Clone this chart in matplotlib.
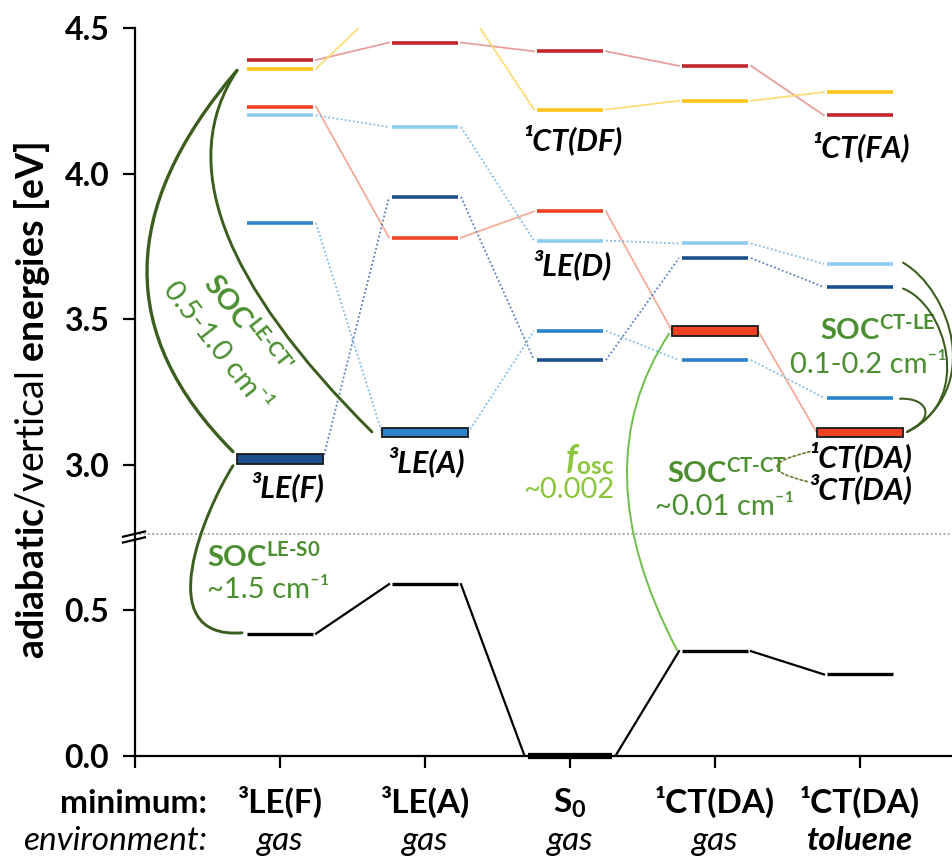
import numpy as np
import matplotlib
matplotlib.use("Agg")
import matplotlib.pyplot as plt
from matplotlib.path import Path
from matplotlib.patches import PathPatch, Rectangle
from matplotlib.transforms import blended_transform_factory

plt.rcParams["font.family"] = ["Lato", "DejaVu Sans"]
plt.rcParams["mathtext.fontset"] = "custom"
plt.rcParams["mathtext.rm"] = "Lato:bold"
plt.rcParams["mathtext.bf"] = "Lato:bold"
plt.rcParams["mathtext.it"] = "Lato:italic:bold"
plt.rcParams["mathtext.sf"] = "Lato"

# geometries along the x axis
minima = ["³LE(F)", "³LE(A)", r"S$_{\text{0}}$", "¹CT(DA)", "¹CT(DA)"]
environments = ["gas", "gas", "gas", "gas", "toluene"]
xpos = np.arange(1, 6)

# state energies in eV at every geometry
E_ct_fa = [4.39, 4.45, 4.42, 4.37, 4.20]
E_ct_df = [4.36, 4.60, 4.22, 4.25, 4.28]
E_ct_da = [4.23, 3.78, 3.87, 3.46, 3.11]
E_le_d = [4.20, 4.16, 3.77, 3.76, 3.69]
E_le_a = [3.83, 3.11, 3.46, 3.36, 3.23]
E_le_f = [3.02, 3.92, 3.36, 3.71, 3.61]
E_s0 = [0.42, 0.59, 0.00, 0.36, 0.28]

ytick_pos = [0.0, 0.5, 1.0, 1.5, 2.0, 2.5]
ytick_lab = ["0.0", "0.5", "3.0", "3.5", "4.0", "4.5"]

GREEN = "#3b5e1f"
GREEN_TXT = "#4b8f31"
LIME = "#6cc04a"
LIME_TXT = "#8cc63f"


def to_axis(E):
    # broken axis: everything above 2 eV is shifted down by 2 eV
    E = np.asarray(E, float)
    return np.where(E > 2.0, E - 2.0, E)


fig = plt.figure(figsize=(9.53, 8.61), dpi=100)
ax = fig.add_axes([135 / 953, 105 / 861, 818 / 953, 728 / 861])
ax.set_xlim(0, 818 / 145)
ax.set_ylim(0, 2.5)

HW = 0.228   # half width of a level
BW = 0.297   # half width of a boxed minimum
BH = 0.032
GAP = 0.02

dotted = (0, (1, 1.3))
series = [
    (E_ct_fa, "#c1272d", "#e8a09c", "-", []),
    (E_ct_df, "#fcc419", "#fddc78", "-", []),
    (E_ct_da, "#ef4123", "#f6ab96", "-", [3, 4]),
    (E_le_d, "#8ecbf0", "#7fbde8", dotted, []),
    (E_le_a, "#2d83c9", "#7fbde8", dotted, [1]),
    (E_le_f, "#1d4f8f", "#5a7fc0", dotted, [0]),
]

for E, col, ccol, ls, boxes in series:
    y = to_axis(E)
    hw = [BW if i in boxes else HW for i in range(5)]
    for i in range(5):
        if i in boxes:
            ax.add_patch(Rectangle((xpos[i] - BW, y[i] - BH / 2), 2 * BW, BH,
                                   fc=col, ec="#1a1a1a", lw=1.3, zorder=4))
        else:
            ax.plot([xpos[i] - HW, xpos[i] + HW], [y[i], y[i]], color=col,
                    lw=2.6, solid_capstyle="butt", zorder=3)
    for i in range(4):
        g0 = 0 if i in boxes else GAP
        g1 = 0 if (i + 1) in boxes else GAP
        ax.plot([xpos[i] + hw[i] + g0, xpos[i + 1] - hw[i + 1] - g1],
                [y[i], y[i + 1]], color=ccol, lw=1.3, ls=ls, zorder=2)

# ground state
y0 = to_axis(E_s0)
hw0 = [HW, HW, 0.293, HW, HW]
for i in range(5):
    ax.plot([xpos[i] - hw0[i], xpos[i] + hw0[i]], [y0[i], y0[i]], color="black",
            lw=4.5 if i == 2 else 2.4, solid_capstyle="butt", zorder=6,
            clip_on=False)
for i in range(4):
    ax.plot([xpos[i] + hw0[i] + GAP, xpos[i + 1] - hw0[i + 1] - GAP],
            [y0[i], y0[i + 1]], color="black", lw=1.6, zorder=2)


def curve(pts, color, lw, ls="-", clip=True):
    codes = [Path.MOVETO] + [Path.CURVE3 if len(pts) == 3 else Path.CURVE4] * (len(pts) - 1)
    ax.add_patch(PathPatch(Path(pts, codes), fc="none", ec=color, lw=lw, ls=ls,
                           capstyle="round", zorder=5, clip_on=clip))


# SOC LE-CT' couplings
curve([(0.703, 2.354), (-0.524, 1.643), (0.676, 1.045)], GREEN, 2.4, clip=False)
curve([(0.703, 2.354), (0.076, 1.883), (1.634, 1.113)], GREEN, 2.1)
# SOC LE-S0
curve([(0.676, 0.997), (0.483, 0.845), (0.097, 0.399), (0.738, 0.423)], GREEN, 2.1)
# oscillator strength
curve([(3.683, 1.450), (3.076, 0.990), (3.738, 0.364)], LIME, 1.4)
# SOC CT-LE in toluene
curve([(5.297, 1.694), (5.621, 1.601), (5.862, 1.258), (5.324, 1.113)], GREEN, 1.5, clip=False)
curve([(5.297, 1.605), (5.586, 1.550), (5.793, 1.223), (5.324, 1.113)], GREEN, 1.5, clip=False)
curve([(5.276, 1.227), (5.483, 1.230), (5.517, 1.155), (5.324, 1.113)], GREEN, 1.5, clip=False)
# SOC CT-CT
curve([(4.655, 1.045), (4.207, 0.993), (4.641, 0.942)], "#6b7a2f", 1.2, ls=(0, (1.5, 1.5)))

# axis break
ax.axhline(0.762, color="#aaaaaa", lw=1.4, ls=(0, (1, 1.2)), zorder=1)
for yb in (0.762, 0.742):
    ax.plot([-0.083, 0.069], [yb - 0.009, yb + 0.009], color="black", lw=1.6, clip_on=False)

# state labels
lab = dict(fontsize=22, fontweight="bold", fontstyle="italic", ha="center", va="center")
ax.text(3.014, 2.117, "¹CT(DF)", **lab)
ax.text(5.0, 2.093, "¹CT(FA)", **lab)
ax.text(3.014, 1.687, "³LE(D)", **lab)
ax.text(1.048, 0.924, "³LE(F)", **lab)
ax.text(2.007, 1.010, "³LE(A)", **lab)
ax.text(5.0, 1.027, "¹CT(DA)", **lab)
ax.text(5.0, 0.918, "³CT(DA)", **lab)

soc = dict(fontsize=21, color=GREEN_TXT, ha="center", va="center")
ax.text(0.772, 1.481, r"SOC$^{\text{LE-CT'}}$", fontweight="bold", rotation=-52,
        rotation_mode="anchor", **soc)
ax.text(0.566, 1.405, "0.5-1.0 cm⁻¹", rotation=-52, rotation_mode="anchor", **soc)
ax.text(5.124, 1.464, r"SOC$^{\text{CT-LE}}$", fontweight="bold", **soc)
ax.text(5.055, 1.344, "0.1-0.2 cm⁻¹", **soc)
ax.text(4.083, 0.973, r"SOC$^{\text{CT-CT}}$", fontweight="bold", **soc)
ax.text(4.066, 0.856, "~0.01 cm⁻¹", **soc)
soc["ha"] = "left"
ax.text(0.497, 0.684, r"SOC$^{\text{LE-S0}}$", fontweight="bold", **soc)
ax.text(0.497, 0.570, "~1.5 cm⁻¹", **soc)
ax.text(3.310, 1.017, r"f$_{\text{osc}}$", fontsize=25, fontweight="bold",
        fontstyle="italic", color=LIME_TXT, ha="right", va="center")
ax.text(3.310, 0.914, "~0.002", fontsize=21, color=LIME_TXT, ha="right", va="center")

# axes styling
for s in ("top", "right"):
    ax.spines[s].set_visible(False)
for s in ("left", "bottom"):
    ax.spines[s].set_linewidth(1.6)
ax.set_yticks(ytick_pos)
ax.set_yticklabels(ytick_lab, fontsize=23, fontweight="bold")
ax.set_xticks([0, 1, 2, 3, 4, 5])
ax.set_xticklabels([])
ax.tick_params(axis="both", direction="out", length=8.5, width=1.6)
ax.tick_params(axis="y", pad=10)

fig.text(32 / 953, 1 - 401 / 861, r"$\text{adiabatic}$/vertical $\text{energies}$ $\text{[eV]}$",
         rotation=90, ha="center", va="center", fontsize=27)

# x axis annotations
tr = blended_transform_factory(ax.transData, fig.transFigure)
yb1, yb2 = 48 / 861, 11 / 861
ax.text(0.497, yb1, "minimum:", transform=tr, fontsize=24, fontweight="bold",
        ha="right", va="baseline")
ax.text(0.497, yb2, "environment:", transform=tr, fontsize=24, fontstyle="italic",
        ha="right", va="baseline")
for x, m, env in zip(xpos, minima, environments):
    ax.text(x, yb1, m, transform=tr, fontsize=24, fontweight="bold", ha="center",
            va="baseline")
    ax.text(x, yb2, env, transform=tr, fontsize=24, fontstyle="italic",
            fontweight="bold" if env == "toluene" else "normal", ha="center",
            va="baseline")

fig.savefig("out.png", dpi=100)
